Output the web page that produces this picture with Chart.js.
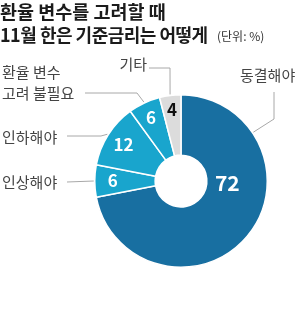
<!DOCTYPE html>
<html>
<head>
<meta charset="utf-8">
<script src="https://cdn.jsdelivr.net/npm/chart.js@4"></script>
<style>
  html, body { margin: 0; padding: 0; background: #fff; }
  #wrap { width: 300px; height: 323px; position: relative; }
</style>
</head>
<body>
<div id="wrap"><canvas id="rateChart" width="300" height="323"></canvas></div>
<script>
// data
const titleLines = ['환율 변수를 고려할 때', '11월 한은 기준금리는 어떻게'];
const unitText = '(단위: %)';
const categories = ['동결해야', '인상해야', '인하해야', '환율 변수 고려 불필요', '기타'];
const labelLines = [['동결해야'], ['인상해야'], ['인하해야'], ['환율 변수', '고려 불필요'], ['기타']];
const shares = [72, 6, 12, 6, 4];
const sliceColors = ['#186fa1', '#19a5cd', '#19a5cd', '#19a5cd', '#dcdcdc'];
const valueColors = ['#ffffff', '#ffffff', '#ffffff', '#ffffff', '#111111'];

const FONT = '"Noto Sans CJK KR", "Noto Sans", sans-serif';

// where the outside labels and their leader lines sit
const calloutLayout = [
    { text: [240, 75], align: 'left', path: [[274, 92], [274, 119]], anchorDeg: 56 },
    { text: [2, 182], align: 'left', path: [[67, 182]] },
    { text: [2, 137], align: 'left', path: [[67, 136], [101, 136]] },
    { text: [2, 72], align: 'left', lineGap: 21, path: [[85, 93], [137, 93]] },
    { text: [147, 64], align: 'right', path: [[149, 68], [170, 68]] }
];
// value labels inside the ring: radius fraction, optional angle (deg from top)
const valueLayout = [
    { r: 0.34, deg: 92, size: 21 },
    { r: 0.7, size: 17 },
    { r: 0.7, size: 17 },
    { r: 0.74, size: 17 },
    { r: 0.76, size: 17 }
];

function pointAt(arc, deg, radius) {
    const a = deg * Math.PI / 180 - Math.PI / 2;
    return [arc.x + radius * Math.cos(a), arc.y + radius * Math.sin(a)];
}

const annotations = {
    id: 'annotations',
    afterDraw(chart) {
        const ctx = chart.ctx;
        const arcs = chart.getDatasetMeta(0).data;

        ctx.save();
        // title
        ctx.fillStyle = '#1b1b1b';
        ctx.textBaseline = 'middle';
        ctx.textAlign = 'left';
        ctx.font = 'bold 18.5px ' + FONT;
        ctx.fillText(titleLines[0], 0, 12);
        ctx.font = 'bold 18px ' + FONT;
        ctx.letterSpacing = '-0.5px';
        ctx.fillText(titleLines[1], 0, 35);
        ctx.letterSpacing = '0px';
        ctx.font = '12px ' + FONT;
        ctx.fillStyle = '#333';
        ctx.fillText(unitText, 217, 36);

        // leader lines and outside labels
        arcs.forEach((arc, i) => {
            const lay = calloutLayout[i];
            const midDeg = ((arc.startAngle + arc.endAngle) / 2 + Math.PI / 2) * 180 / Math.PI;
            const anchor = pointAt(arc, lay.anchorDeg !== undefined ? lay.anchorDeg : midDeg, arc.outerRadius + 1);
            ctx.strokeStyle = '#a8a8a8';
            ctx.lineWidth = 1;
            ctx.beginPath();
            lay.path.forEach((p, k) => k === 0 ? ctx.moveTo(p[0], p[1]) : ctx.lineTo(p[0], p[1]));
            ctx.lineTo(anchor[0], anchor[1]);
            ctx.stroke();

            ctx.fillStyle = '#444';
            ctx.font = '15px ' + FONT;
            ctx.textAlign = lay.align;
            labelLines[i].forEach((t, k) => {
                ctx.fillText(t, lay.text[0], lay.text[1] + k * (lay.lineGap || 0));
            });

            // value inside the slice
            const v = valueLayout[i];
            const deg = v.deg !== undefined ? v.deg : midDeg;
            const r = arc.innerRadius + v.r * (arc.outerRadius - arc.innerRadius);
            const p = pointAt(arc, deg, r);
            ctx.fillStyle = valueColors[i];
            ctx.font = 'bold ' + v.size + 'px ' + FONT;
            ctx.textAlign = 'center';
            ctx.fillText(String(shares[i]), p[0], p[1]);
        });
        ctx.restore();
    }
};

new Chart(document.getElementById('rateChart').getContext('2d'), {
    type: 'doughnut',
    data: {
        labels: categories,
        datasets: [{
            data: shares,
            backgroundColor: sliceColors,
            borderColor: '#ffffff',
            borderWidth: 1.5
        }]
    },
    options: {
        responsive: false,
        animation: false,
        cutout: '30%',
        layout: { padding: { left: 94, right: 32, top: 94, bottom: 55 } },
        plugins: {
            legend: { display: false },
            tooltip: { enabled: false }
        }
    },
    plugins: [annotations]
});
</script>
</body>
</html>
